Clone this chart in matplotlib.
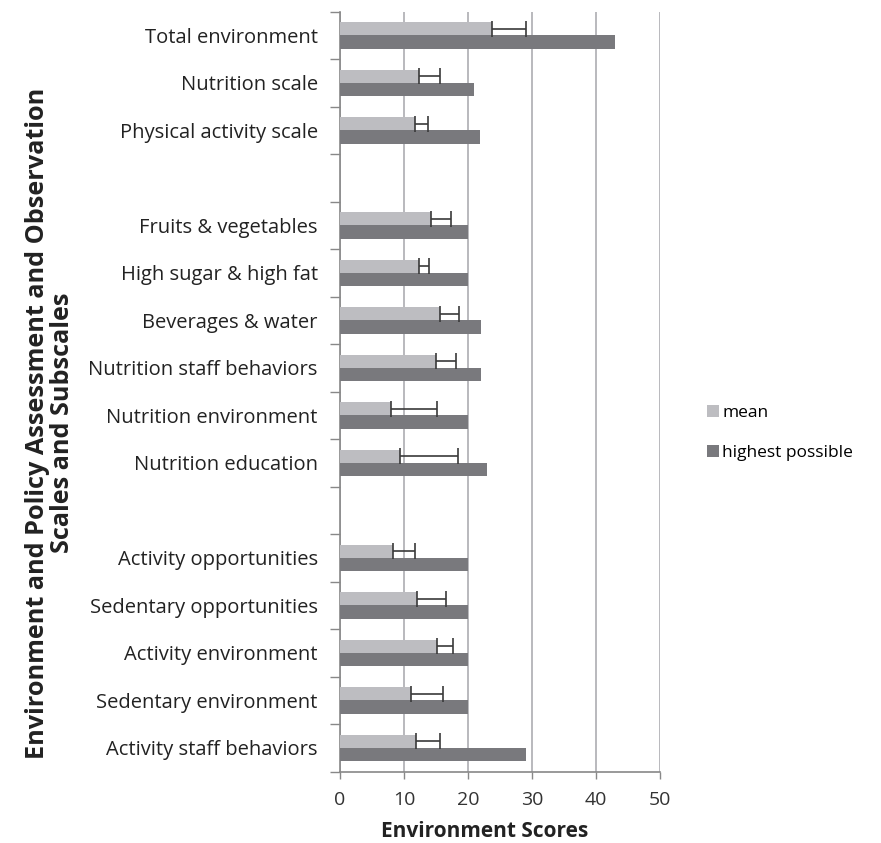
import matplotlib
matplotlib.use("Agg")
import matplotlib.pyplot as plt
import numpy as np

plt.rcParams['font.family'] = ['Open Sans', 'DejaVu Sans']

# Scale / subscale names (empty strings are spacer rows between groups)
categories = [
    "Total environment", "Nutrition scale", "Physical activity scale", "",
    "Fruits & vegetables", "High sugar & high fat", "Beverages & water",
    "Nutrition staff behaviors", "Nutrition environment", "Nutrition education", "",
    "Activity opportunities", "Sedentary opportunities", "Activity environment",
    "Sedentary environment", "Activity staff behaviors",
]
mean_scores = [23.8, 12.4, 11.7, np.nan,
               14.2, 12.4, 15.6, 15.0, 7.9, 9.4, np.nan,
               8.3, 12.0, 15.2, 11.1, 11.9]
upper_error = [5.2, 3.2, 2.1, np.nan,
               3.2, 1.5, 3.0, 3.1, 7.2, 9.0, np.nan,
               3.4, 4.5, 2.5, 5.0, 3.7]
highest_possible = [43, 21, 21.8, np.nan,
                    20, 20, 22, 22, 20, 23, np.nan,
                    20, 20, 20, 20, 29]
x_ticks = [0, 10, 20, 30, 40, 50]

mean_color = "#bdbdc1"
high_color = "#79797d"
grid_color = "#b3b3b8"

fig = plt.figure(figsize=(8.81, 8.43), dpi=100)
ax = fig.add_axes([340 / 881, 1 - 771.7 / 843, 320 / 881, 760 / 843])

y = np.arange(len(categories))
bar_h = 0.28
ax.barh(y - 0.14, mean_scores, height=bar_h, color=mean_color, label="mean", zorder=3)
ax.barh(y + 0.14, highest_possible, height=bar_h, color=high_color,
        label="highest possible", zorder=3)
ax.errorbar(mean_scores, y - 0.14,
            xerr=[np.zeros(len(upper_error)), upper_error],
            fmt='none', ecolor="#3a3a3a", elinewidth=1.2, capsize=5.5,
            capthick=1.2, zorder=4)

ax.set_xlim(0, 50)
ax.set_ylim(len(categories) - 0.5, -0.5)
ax.set_xticks(x_ticks)
ax.set_xticklabels([str(t) for t in x_ticks], fontsize=14, color="#333333")
ax.set_yticks(y)
ax.set_yticklabels(categories, fontsize=14.5, color="#222222")
ax.tick_params(axis='y', which='major', length=0, pad=16)
ax.set_yticks(np.arange(-0.5, len(categories), 1.0), minor=True)
ax.tick_params(axis='y', which='minor', length=7, color="#888888", width=1)
ax.tick_params(axis='x', length=5, color="#888888", width=1, pad=9)

ax.grid(axis='x', color=grid_color, linewidth=1.3, zorder=0)
for s in ['top', 'right']:
    ax.spines[s].set_visible(False)
for s in ['left', 'bottom']:
    ax.spines[s].set_color("#888888")
    ax.spines[s].set_linewidth(1.2)

fig.text(50 / 881, 1 - 423 / 843, "Environment and Policy Assessment and Observation\nScales and Subscales",
         rotation=90, ha='center', va='center', multialignment='center',
         fontsize=18.2, fontweight='bold', color="#222222", linespacing=0.98)
fig.text(485 / 881, 1 - 821 / 843, "Environment Scores", ha='center', va='top',
         fontsize=15, fontweight='bold', color="#222222")

fig.legend(loc='center left', bbox_to_anchor=(691 / 881, 1 - 433 / 843),
           frameon=False, fontsize=12.5, handlelength=0.7, handleheight=0.7,
           handletextpad=0.2, labelspacing=1.35)

fig.savefig("out.png", dpi=100)
